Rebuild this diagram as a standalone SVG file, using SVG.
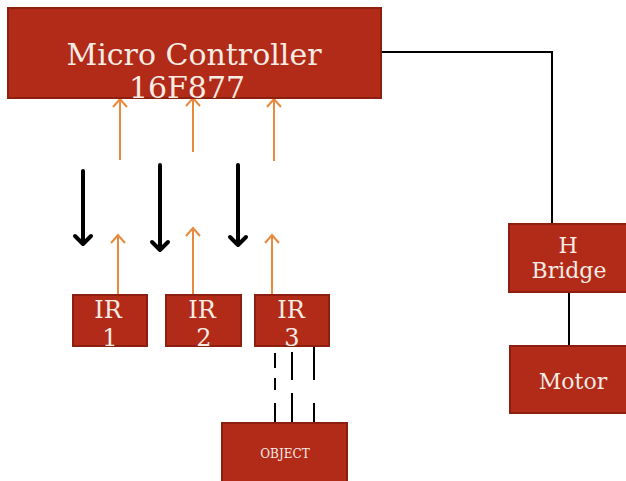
<svg xmlns="http://www.w3.org/2000/svg" width="626" height="481" viewBox="0 0 626 481">
<style>
.box{fill:#b22a18;stroke:#8c1f0f;stroke-width:2}
.t{font-family:"DejaVu Serif","Liberation Serif",serif;fill:#f6ece4;text-anchor:middle}
.or{stroke:#e8893c;stroke-width:2;fill:none}
.bk{stroke:#000;stroke-width:4;fill:none;stroke-linecap:round;stroke-linejoin:round}
.ln{stroke:#000;stroke-width:2;fill:none}
</style>
<rect width="626" height="481" fill="#fff"/>
<g id="connectors">
<path class="ln" d="M381 52H552V224"/>
<path class="ln" d="M569 292V346"/>
<path class="or" d="M120 160V99M113 107L120 99L127 107"/>
<path class="or" d="M193 152V98M186 106L193 98L200 106"/>
<path class="or" d="M274 161V99M267 107L274 99L281 107"/>
<path class="or" d="M118 295V235M111 243L118 235L125 243"/>
<path class="or" d="M193 295V228M186 236L193 228L200 236"/>
<path class="or" d="M272 295V235M265 243L272 235L279 243"/>
<path class="bk" d="M83 171V244M75 236L83 244L91 236"/>
<path class="bk" d="M160 165V250M152 242L160 250L168 242"/>
<path class="bk" d="M238 165V245M230 237L238 245L246 237"/>
<path class="ln" d="M275 353V368M275 378V390M275 403V423"/>
<path class="ln" d="M292 352V380M292 393V423"/>
<path class="ln" d="M314 345V380M314 403V423"/>
</g>
<g id="mc">
<rect class="box" x="8" y="8" width="373" height="90"/>
<text class="t" x="194" y="65" font-size="30">Micro Controller</text>
<text class="t" x="187" y="98" font-size="30">16F877</text>
</g>
<g id="ir1">
<rect class="box" x="73" y="295" width="74" height="51"/>
<text class="t" x="108" y="318" font-size="24">IR</text>
<text class="t" x="110" y="346" font-size="24">1</text>
</g>
<g id="ir2">
<rect class="box" x="166" y="295" width="75" height="51"/>
<text class="t" x="202" y="318" font-size="24">IR</text>
<text class="t" x="204" y="346" font-size="24">2</text>
</g>
<g id="ir3">
<rect class="box" x="255" y="295" width="74" height="51"/>
<text class="t" x="291" y="318" font-size="24">IR</text>
<text class="t" x="292" y="346" font-size="24">3</text>
</g>
<g id="object">
<rect class="box" x="222" y="423" width="125" height="62"/>
<text class="t" x="285" y="458" font-size="12">OBJECT</text>
</g>
<g id="hbridge">
<rect class="box" x="509" y="224" width="118" height="68"/>
<text class="t" x="568" y="253" font-size="22">H</text>
<text class="t" x="569" y="278" font-size="22">Bridge</text>
</g>
<g id="motor">
<rect class="box" x="510" y="346" width="117" height="67"/>
<text class="t" x="573" y="389" font-size="22">Motor</text>
</g>
</svg>
